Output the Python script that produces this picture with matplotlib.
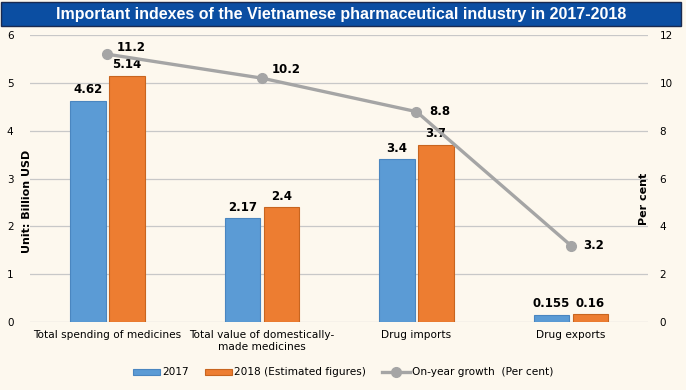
import matplotlib.pyplot as plt
import numpy as np
from matplotlib.patches import Rectangle

categories = ['Total spending of medicines', 'Total value of domestically-\nmade medicines',
              'Drug imports', 'Drug exports']
v2017 = [4.62, 2.17, 3.4, 0.155]
v2018 = [5.14, 2.4, 3.7, 0.16]
growth = [11.2, 10.2, 8.8, 3.2]
lab2017 = ['4.62', '2.17', '3.4', '0.155']
lab2018 = ['5.14', '2.4', '3.7', '0.16']
labgrowth = ['11.2', '10.2', '8.8', '3.2']
# label offsets for the growth line (points)
grow_off = [(7, 5), (7, 6), (9, 0), (9, 0)]

bg = '#FDF8EE'
fig = plt.figure(figsize=(6.86, 3.9), dpi=100, facecolor=bg)

# title band
fig.patches.append(Rectangle((0.002, 0.933), 0.99, 0.063, transform=fig.transFigure,
                             facecolor='#0B4EA2', edgecolor='#1a2a50', lw=1))
fig.text(0.497, 0.963, 'Important indexes of the Vietnamese pharmaceutical industry in 2017-2018',
         ha='center', va='center', color='white', fontsize=11.5, fontweight='bold',
         family='Liberation Sans')

ax = fig.add_axes([0.044, 0.174, 0.901, 0.736], facecolor=bg)
x = np.arange(len(categories))
w = 0.232
b1 = ax.bar(x - w / 2 - 0.01, v2017, w, color='#5B9BD5', edgecolor='#4A86C0', lw=0.8,
            label='2017', zorder=2)
b2 = ax.bar(x + w / 2 + 0.01, v2018, w, color='#ED7D31', edgecolor='#C8651F', lw=0.8,
            label='2018 (Estimated figures)', zorder=2)
for r, t in zip(b1, lab2017):
    ax.text(r.get_x() + r.get_width() / 2, r.get_height() + 0.1, t, ha='center', va='bottom',
            fontsize=8.5, fontweight='bold')
for r, t in zip(b2, lab2018):
    ax.text(r.get_x() + r.get_width() / 2, r.get_height() + 0.1, t, ha='center', va='bottom',
            fontsize=8.5, fontweight='bold')

ax.set_xlim(-0.5, 3.5)
ax.set_ylim(0, 6)
ax.set_yticks(range(0, 7))
ax.yaxis.grid(True, color='#C8C8C8', lw=0.9, zorder=0)
ax.set_axisbelow(True)
for s in ax.spines.values():
    s.set_visible(False)
ax.tick_params(length=0, labelsize=7.5, pad=12)
ax.tick_params(axis='x', labelsize=7.6, pad=6)
ax.set_xticks(x)
ax.set_xticklabels(categories)
ax.set_ylabel('Unit: Billion USD', fontsize=8, fontweight='bold')
ax.yaxis.set_label_coords(0.003, 0.42)

ax2 = ax.twinx()
ln, = ax2.plot(x, growth, color='#A5A5A5', lw=2.4, marker='o', ms=7,
               label='On-year growth  (Per cent)', zorder=3)
for xi, g, t, off in zip(x, growth, labgrowth, grow_off):
    ax2.annotate(t, (xi, g), xytext=off, textcoords='offset points', ha='left', va='center',
                 fontsize=8.5, fontweight='bold')
ax2.set_ylim(0, 12)
ax2.set_yticks(range(0, 13, 2))
for s in ax2.spines.values():
    s.set_visible(False)
ax2.tick_params(length=0, labelsize=7.5, pad=8)
ax2.set_ylabel('Per cent', fontsize=8, fontweight='bold')
ax2.yaxis.set_label_coords(0.985, 0.43)

fig.legend([b1, b2, ln], ['2017', '2018 (Estimated figures)', 'On-year growth  (Per cent)'],
           loc='center', bbox_to_anchor=(0.5, 0.045), ncol=3, frameon=False, fontsize=7.6,
           handlelength=2.6, handleheight=0.5, columnspacing=1.5, handletextpad=0.2)

fig.savefig('out.png', dpi=100, facecolor=bg)
